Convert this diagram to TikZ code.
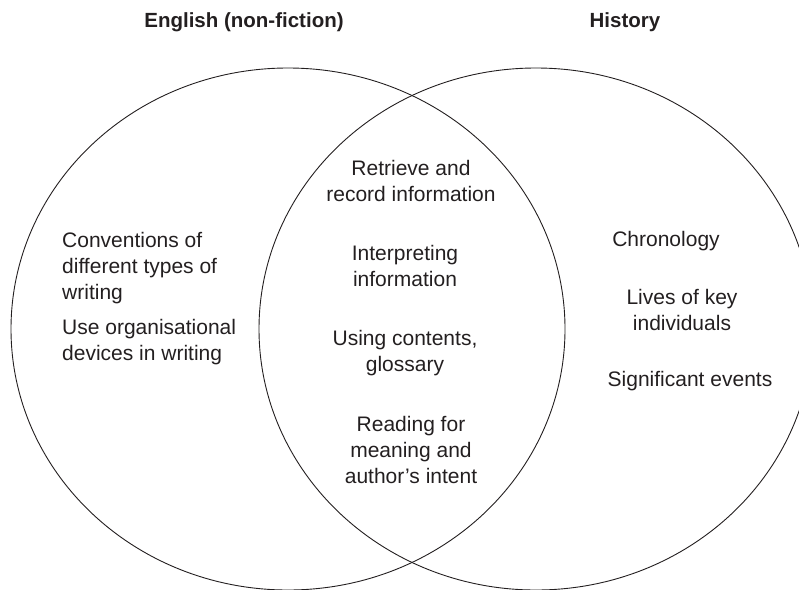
\documentclass[tikz,border=0pt]{standalone}
\usepackage{fontspec}
\setmainfont{Liberation Sans}
\definecolor{ink}{HTML}{231F20}
\begin{document}
\begin{tikzpicture}[x=1pt,y=-1pt,
  venn/.style={draw=ink,line width=0.9pt},
  lbl/.style={text=ink,inner sep=0pt,font=\fontsize{21}{26}\selectfont},
  ttl/.style={text=ink,inner sep=0pt,font=\fontsize{20.5}{24}\selectfont\bfseries}]
\useasboundingbox (0,0) rectangle (799,589);
\begin{scope}
  \clip (0,0) rectangle (799,589);
  \draw[venn] (288,329) ellipse [x radius=277, y radius=261];
  \draw[venn] (536,329) ellipse [x radius=277, y radius=261];
\end{scope}
\node[ttl] (t1) at (244,22) {English (non-fiction)};
\node[ttl] (t2) at (625,22) {History};
\node[lbl,align=left,anchor=west] (l1) at (62,268) {Conventions of\\different types of\\writing};
\node[lbl,align=left,anchor=west] (l2) at (62,342) {Use organisational\\devices in writing};
\node[lbl,align=center] (m1) at (411,181) {Retrieve and\\record information};
\node[lbl,align=center] (m2) at (405,266) {Interpreting\\information};
\node[lbl,align=center] (m3) at (405,353) {Using contents,\\glossary};
\node[lbl,align=center] (m4) at (411,450) {Reading for\\meaning and\\author’s intent};
\node[lbl] (r1) at (666,241) {Chronology};
\node[lbl,align=center] (r2) at (682,310) {Lives of key\\individuals};
\node[lbl] (r3) at (690,381) {Significant events};
\end{tikzpicture}
\end{document}
